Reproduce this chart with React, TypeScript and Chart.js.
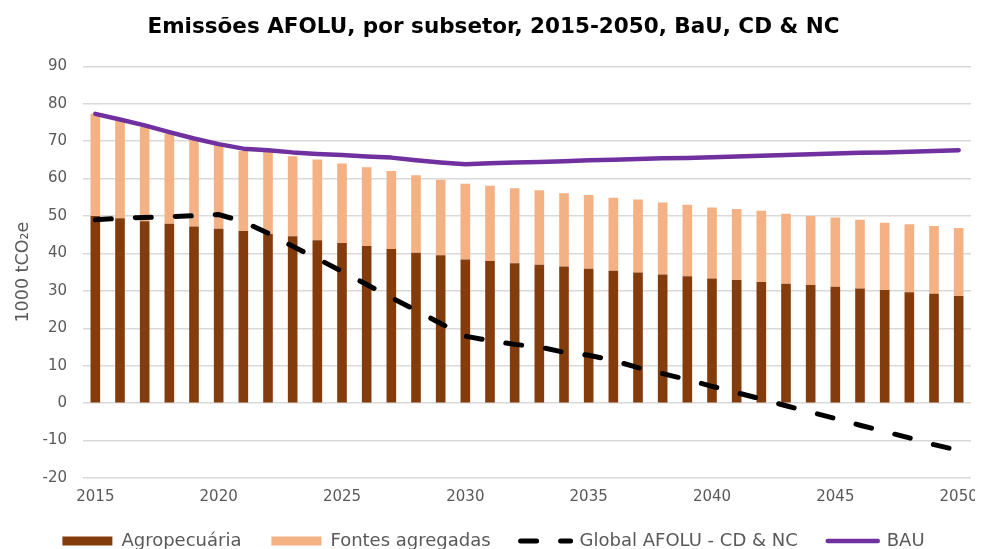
import React, { useEffect, useRef } from "react";
import { Chart, registerables } from "chart.js";

Chart.register(...registerables);

const years = [
  "2015", "2016", "2017", "2018", "2019", "2020", "2021", "2022", "2023", "2024",
  "2025", "2026", "2027", "2028", "2029", "2030", "2031", "2032", "2033", "2034",
  "2035", "2036", "2037", "2038", "2039", "2040", "2041", "2042", "2043", "2044",
  "2045", "2046", "2047", "2048", "2049", "2050",
];

const xTickLabels = ["2015", "2020", "2025", "2030", "2035", "2040", "2045", "2050"];

const agropecuaria = [
  50.0, 49.4, 48.6, 47.9, 47.2, 46.6, 46.0, 45.2, 44.6, 43.5,
  42.8, 42.0, 41.2, 40.2, 39.5, 38.4, 38.0, 37.4, 37.0, 36.5,
  35.9, 35.4, 34.9, 34.4, 33.9, 33.3, 32.9, 32.4, 31.9, 31.6,
  31.1, 30.6, 30.2, 29.6, 29.2, 28.6,
];

const fontesAgregadas = [
  27.3, 26.0, 25.2, 24.1, 23.2, 22.4, 21.4, 21.9, 21.4, 21.6,
  21.2, 21.0, 20.8, 20.7, 20.2, 20.2, 20.1, 20.0, 19.9, 19.6,
  19.7, 19.5, 19.5, 19.2, 19.1, 19.0, 19.0, 19.0, 18.7, 18.4,
  18.5, 18.4, 18.0, 18.2, 18.1, 18.2,
];

const globalAfolu = [
  49.0, 49.4, 49.6, 49.8, 50.1, 50.4, 48.5, 45.4, 41.9, 38.6,
  35.2, 31.7, 28.2, 24.8, 21.3, 17.9, 16.7, 15.7, 15.0, 13.6,
  12.8, 11.4, 9.5, 7.9, 6.3, 4.5, 2.8, 1.1, -0.7, -2.4,
  -4.1, -5.9, -7.6, -9.3, -11.1, -12.6,
];

const bau = [
  77.3, 75.8, 74.2, 72.4, 70.7, 69.2, 68.0, 67.6, 67.0, 66.6,
  66.3, 65.9, 65.6, 64.9, 64.3, 63.8, 64.1, 64.3, 64.4, 64.6,
  64.9, 65.0, 65.2, 65.4, 65.5, 65.7, 65.9, 66.1, 66.3, 66.5,
  66.7, 66.9, 67.0, 67.2, 67.4, 67.6,
];

const seriesNames = ["Agropecuária", "Fontes agregadas", "Global AFOLU - CD & NC", "BAU"];
const titleText = "Emissões AFOLU, por subsetor, 2015-2050, BaU, CD & NC";
const yTitle = "1000 tCO₂e";
const yMin = -20;
const yMax = 90;
const yStep = 10;

const FONT = "'DejaVu Sans', sans-serif";
const TEXT = "#595959";

export default function App() {
  const ref = useRef<HTMLCanvasElement | null>(null);

  useEffect(() => {
    if (!ref.current) return;
    const chart = new Chart(ref.current, {
      type: "bar",
      data: {
        labels: years,
        datasets: [
          {
            type: "bar",
            label: seriesNames[0],
            data: agropecuaria,
            backgroundColor: "#843C0C",
            stack: "bars",
            order: 1,
            categoryPercentage: 1,
            barPercentage: 0.39,
          },
          {
            type: "bar",
            label: seriesNames[1],
            data: fontesAgregadas,
            backgroundColor: "#F4B183",
            stack: "bars",
            order: 1,
            categoryPercentage: 1,
            barPercentage: 0.39,
          },
          {
            type: "line",
            label: seriesNames[2],
            data: globalAfolu,
            borderColor: "#000000",
            backgroundColor: "#000000",
            borderWidth: 5,
            borderDash: [16, 24],
            borderCapStyle: "round",
            pointRadius: 0,
            tension: 0,
            stack: "dash",
            order: 0,
          },
          {
            type: "line",
            label: seriesNames[3],
            data: bau,
            borderColor: "#7030A0",
            backgroundColor: "#7030A0",
            borderWidth: 4.5,
            borderCapStyle: "round",
            borderJoinStyle: "round",
            pointRadius: 0,
            tension: 0,
            stack: "bau",
            order: 0,
          },
        ] as any,
      },
      options: {
        animation: false,
        responsive: true,
        maintainAspectRatio: false,
        layout: { padding: { left: 0, right: 4, top: 0, bottom: -11 } },
        plugins: {
          tooltip: { enabled: false },
          title: {
            display: true,
            text: titleText,
            color: "#000000",
            font: { family: FONT, size: 21.5, weight: "bold" },
            padding: { top: 6.5, bottom: 26 },
          },
          legend: {
            display: true,
            position: "bottom",
            labels: {
              color: TEXT,
              font: { family: FONT, size: 18 },
              usePointStyle: true,
              pointStyleWidth: 50,
              boxHeight: 9,
              padding: 30,
              generateLabels: (c: any) =>
                c.data.datasets.map((ds: any, i: number) => {
                  const isLine = ds.type === "line";
                  return {
                    text: ds.label,
                    fillStyle: isLine ? "rgba(0,0,0,0)" : ds.backgroundColor,
                    strokeStyle: isLine ? ds.borderColor : ds.backgroundColor,
                    lineWidth: isLine ? ds.borderWidth : 0,
                    lineDash: isLine && ds.borderDash ? ds.borderDash : [],
                    lineCap: isLine ? "round" : "butt",
                    pointStyle: isLine ? "line" : "rect",
                    fontColor: TEXT,
                    hidden: false,
                    datasetIndex: i,
                  };
                }),
            },
          },
        },
        scales: {
          x: {
            stacked: true,
            offset: true,
            grid: { display: false, drawTicks: false },
            border: { display: false },
            ticks: {
              color: TEXT,
              font: { family: FONT, size: 15 },
              autoSkip: false,
              maxRotation: 0,
              minRotation: 0,
              padding: 10,
              callback: (_v: any, index: number) =>
                xTickLabels.includes(years[index]) ? years[index] : "",
            },
            afterFit: (scale: any) => {
              scale.height = 24;
              scale.paddingRight = 12;
            },
          },
          y: {
            stacked: true,
            min: yMin,
            max: yMax,
            grid: { color: "#d9d9d9", lineWidth: 1.5, drawTicks: false },
            border: { display: false },
            ticks: {
              stepSize: yStep,
              color: TEXT,
              font: { family: FONT, size: 15 },
              padding: 16,
            },
            title: {
              display: true,
              text: yTitle,
              color: TEXT,
              font: { family: FONT, size: 17.5 },
              padding: { top: 5, bottom: 0 },
            },
            afterFit: (scale: any) => {
              scale.width = 75;
            },
          },
        },
      } as any,
    });
    return () => chart.destroy();
  }, []);

  return (
    <div style={{ width: 975, height: 541, position: "relative" }}>
      <canvas ref={ref} />
    </div>
  );
}
